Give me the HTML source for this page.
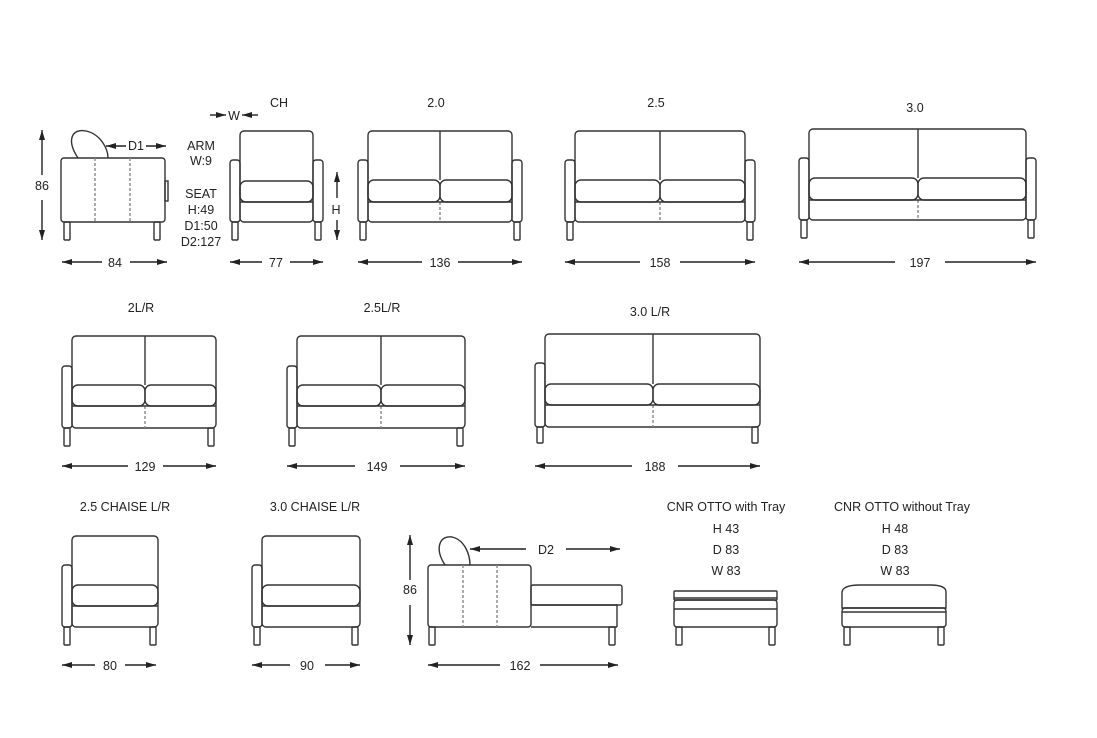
<!DOCTYPE html>
<html><head><meta charset="utf-8"><style>
html,body{margin:0;padding:0;background:#fff;width:1097px;height:738px;overflow:hidden}
svg{display:block}
text{font-family:"Liberation Sans",sans-serif;font-size:12.5px;fill:#222;text-anchor:middle}
</style></head><body>
<svg id="s" width="1097" height="738" viewBox="0 0 1097 738" xmlns="http://www.w3.org/2000/svg">
<defs><marker id="a" viewBox="0 0 10 6" refX="10" refY="3" markerWidth="10" markerHeight="6" orient="auto-start-reverse" markerUnits="userSpaceOnUse"><path d="M0,0L10,3L0,6z" fill="#222"/></marker></defs>
<g id="g" fill="none" stroke="#333" stroke-width="1.4"></g>
<text x="279" y="107">CH</text>
<text x="436" y="107">2.0</text>
<text x="656" y="107">2.5</text>
<text x="915" y="112">3.0</text>
<text x="234" y="120">W</text>
<text x="201" y="150">ARM</text>
<text x="201" y="165">W:9</text>
<text x="201" y="198">SEAT</text>
<text x="201" y="214">H:49</text>
<text x="201" y="230">D1:50</text>
<text x="201" y="246">D2:127</text>
<text x="136" y="150">D1</text>
<text x="42" y="190">86</text>
<text x="336" y="214">H</text>
<text x="115" y="267">84</text>
<text x="276" y="267">77</text>
<text x="440" y="267">136</text>
<text x="660" y="267">158</text>
<text x="920" y="267">197</text>
<text x="141" y="312">2L/R</text>
<text x="382" y="312">2.5L/R</text>
<text x="650" y="316">3.0 L/R</text>
<text x="145" y="471">129</text>
<text x="377" y="471">149</text>
<text x="655" y="471">188</text>
<text x="125" y="511">2.5 CHAISE L/R</text>
<text x="315" y="511">3.0 CHAISE L/R</text>
<text x="726" y="511">CNR OTTO with Tray</text>
<text x="902" y="511">CNR OTTO without Tray</text>
<text x="726" y="533">H 43</text>
<text x="726" y="554">D 83</text>
<text x="726" y="575">W 83</text>
<text x="895" y="533">H 48</text>
<text x="895" y="554">D 83</text>
<text x="895" y="575">W 83</text>
<text x="546" y="554">D2</text>
<text x="410" y="594">86</text>
<text x="110" y="670">80</text>
<text x="307" y="670">90</text>
<text x="520" y="670">162</text>
</svg>
<script>
var g=document.getElementById('g'),NS="http://www.w3.org/2000/svg";
function el(t,a){var e=document.createElementNS(NS,t);for(var k in a)e.setAttribute(k,a[k]);g.appendChild(e);return e;}
function R(x,y,w,h,r){el('rect',{x:x,y:y,width:w,height:h,rx:r||0});}
function L(x1,y1,x2,y2,d){var e=el('line',{x1:x1,y1:y1,x2:x2,y2:y2});if(d){e.setAttribute('stroke-dasharray','3,2');e.setAttribute('stroke','#888');}}
function A(x1,y1,x2,y2){var e=el('line',{x1:x1,y1:y1,x2:x2,y2:y2,'marker-end':'url(#a)'});e.setAttribute('stroke','#222');}
function dim(x1,x2,y,gap1,gap2){A(gap1,y,x1,y);A(gap2,y,x2,y);}
function leg(x,y1,y2){R(x-3,y1,6,y2-y1,1);}
function sofa(o){var x0=o.x0,x1=o.x1,aw=10;
 var bl=o.la?x0+aw:x0, br=o.ra?x1-aw:x1;
 if(o.la)R(x0,o.at,aw,o.bb-o.at,3);
 if(o.ra)R(x1-aw,o.at,aw,o.bb-o.at,3);
 R(bl,o.bt,br-bl,o.bb-o.bt,4);
 var sp=o.sp||[];
 sp.forEach(function(s){L(s,o.bt,s,o.ct);L(s,o.cb,s,o.bb,1);});
 var xs=[bl].concat(sp).concat([br]);
 for(var i=0;i<xs.length-1;i++)R(xs[i],o.ct,xs[i+1]-xs[i],o.cb-o.ct,6);
 L(bl,o.cb,br,o.cb);
 leg(x0+5,o.bb,o.lb);leg(x1-5,o.bb,o.lb);}
sofa({x0:230,x1:323,la:1,ra:1,bt:131,at:160,ct:181,cb:202,bb:222,lb:240});
sofa({x0:358,x1:522,la:1,ra:1,bt:131,at:160,ct:180,cb:202,bb:222,lb:240,sp:[440]});
sofa({x0:565,x1:755,la:1,ra:1,bt:131,at:160,ct:180,cb:202,bb:222,lb:240,sp:[660]});
sofa({x0:799,x1:1036,la:1,ra:1,bt:129,at:158,ct:178,cb:200,bb:220,lb:238,sp:[918]});
sofa({x0:62,x1:216,la:1,bt:336,at:366,ct:385,cb:406,bb:428,lb:446,sp:[145]});
sofa({x0:287,x1:465,la:1,bt:336,at:366,ct:385,cb:406,bb:428,lb:446,sp:[381]});
sofa({x0:535,x1:760,la:1,bt:334,at:363,ct:384,cb:405,bb:427,lb:443,sp:[653]});
sofa({x0:62,x1:158,la:1,bt:536,at:565,ct:585,cb:606,bb:627,lb:645});
sofa({x0:252,x1:360,la:1,bt:536,at:565,ct:585,cb:606,bb:627,lb:645});
el('path',{d:'M78,158 C66,140 72,128 86,131 C100,134 108,148 108,158'});
R(61,158,104,64,3);R(165,181,3,20);L(95,158,95,222,1);L(130,158,130,222,1);
leg(67,222,240);leg(157,222,240);
el('path',{d:'M445,565 C434,548 440,535 452,537 C465,540 470,555 470,565'});
R(428,565,103,62,3);L(463,565,463,627,1);L(497,565,497,627,1);
R(531,585,91,20,2);L(531,605,617,605);L(617,605,617,627);L(531,627,617,627);
leg(432,627,645);leg(612,627,645);
R(674,591,103,9,1);L(674,598,777,598);R(674,600,103,27,3);L(674,609,777,609);
leg(679,627,645);leg(772,627,645);
el('path',{d:'M842,608 L842,592 Q843,585 860,585 L930,585 Q946,585 946,592 L946,608 Z'});
R(842,608,104,19,3);L(842,612,946,612);leg(847,627,645);leg(941,627,645);
dim(62,167,262,102,130);dim(230,323,262,262,290);dim(358,522,262,422,458);dim(565,755,262,640,680);dim(799,1036,262,895,945);
dim(62,216,466,128,163);dim(287,465,466,355,400);dim(535,760,466,632,678);
dim(62,156,665,95,125);dim(252,360,665,290,325);dim(428,618,665,500,540);
A(126,146,106,146);A(146,146,166,146);
A(526,549,470,549);A(566,549,620,549);
A(42,175,42,130);A(42,200,42,240);A(410,580,410,535);A(410,605,410,645);
A(337,198,337,172);A(337,220,337,240);
A(210,115,226,115);A(258,115,242,115);
</script>
</body></html>
